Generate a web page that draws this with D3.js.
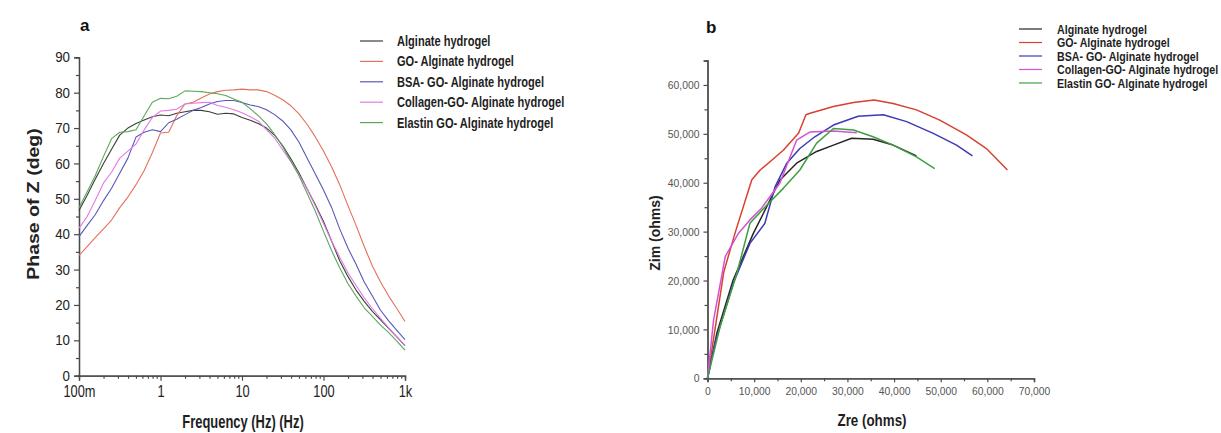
<!DOCTYPE html>
<html>
<head>
<meta charset="utf-8">
<script src="https://cdn.jsdelivr.net/npm/d3@7"></script>
<style>
  html, body { margin: 0; padding: 0; background: #fff; }
  svg { display: block; }
  text { font-family: "Liberation Sans", Arial, sans-serif; }
</style>
</head>
<body>
<svg id="chart" width="1221" height="433"></svg>
<script>
// ---- shared legend / series names ----
const seriesNames = [
  "Alginate hydrogel",
  "GO- Alginate hydrogel",
  "BSA- GO- Alginate hydrogel",
  "Collagen-GO- Alginate hydrogel",
  "Elastin GO- Alginate hydrogel"
];
const colorsA = ["#3d3d3d", "#e5705c", "#5858b8", "#e47ae4", "#5aa85a"];
const colorsB = ["#262626", "#d7412f", "#3b3bb5", "#d452d4", "#3f9f3f"];

// ---- panel a: Bode phase ----
const freqHz = [0.1, 0.126, 0.158, 0.2, 0.251, 0.316, 0.398, 0.501, 0.631, 0.794,
  1, 1.26, 1.58, 2, 2.51, 3.16, 3.98, 5.01, 6.31, 7.94,
  10, 12.6, 15.8, 20, 25.1, 31.6, 39.8, 50.1, 63.1, 79.4,
  100, 126, 158, 200, 251, 316, 398, 501, 631, 794, 1000];

const phaseAlginate = [46.7, 51, 55.5, 60, 64, 68, 70, 71.3, 72.3, 73.2,
  73.7, 73.5, 74.2, 74.6, 75, 75, 74.6, 73.9, 74.2, 74,
  73, 72.2, 71.3, 70, 68, 65, 61.3, 57.3, 52.8, 48.3,
  43.6, 38, 32.5, 28, 24.2, 21, 18.2, 15.8, 13.4, 11, 8.5];
const phaseGO = [34, 36.5, 39, 41.5, 44, 47.5, 50.5, 54, 58, 63,
  68.6, 68.8, 73.5, 76.8, 77.3, 78.5, 79.6, 80.3, 80.7, 80.8,
  81, 80.8, 80.8, 80.3, 79.3, 78, 76.3, 74, 71, 67.5,
  63.5, 59, 54, 48, 42.5, 36.5, 31, 26.5, 22.5, 19, 15.3];
const phaseBSA = [39.3, 42.5, 45.5, 49.5, 53, 57.2, 61.5, 67.5, 68.8, 69.5,
  69, 71.5, 72.5, 73.8, 75, 75.8, 76.8, 77.5, 77.8, 77.8,
  77.2, 76.5, 76.1, 75.2, 73.8, 72, 69.5, 66, 61.5, 57,
  52.5, 47.5, 41.5, 36, 31.5, 26.5, 22.5, 18.5, 15.5, 12.8, 10.2];
const phaseCollagen = [41.7, 45, 49.5, 54.5, 57.5, 61.5, 63.5, 65.5, 69.5, 73,
  74.8, 75, 75.3, 76.8, 77, 77.2, 77.3, 76.4, 75.9, 75.2,
  74.3, 73.2, 72, 69.5, 67.2, 63.8, 60.5, 56.8, 52.8, 48,
  43, 38, 33.5, 29, 25.5, 22, 19, 16.2, 13.5, 11, 8.5];
const phaseElastin = [47.5, 52, 56.5, 62, 67, 68.8, 69, 69.5, 73.5, 77.3,
  78.4, 78.3, 79, 80.5, 80.4, 80.3, 80, 79.7, 79.2, 78.2,
  77.3, 75.5, 73.5, 71.2, 68.2, 64.7, 60.6, 56.5, 51.5, 46.5,
  40.8, 35.3, 30.5, 26, 22.5, 19.2, 16.8, 14.3, 12.2, 9.8, 7.2];

const freqTickValues = [0.1, 1, 10, 100, 1000];
const freqTickLabels = ["100m", "1", "10", "100", "1k"];
const phaseTickValues = [0, 10, 20, 30, 40, 50, 60, 70, 80, 90];

// ---- panel b: Nyquist ----
const nyqAlginate = [[0, 0], [2000, 9200], [5500, 20100], [9800, 29600], [12700, 35100],
  [15500, 40500], [19100, 44000], [23400, 46400], [27000, 47700], [30900, 49100],
  [35500, 48900], [39800, 47700], [44800, 45500]];
const nyqGO = [[0, 0], [3500, 21800], [6000, 30000], [9500, 40600], [11300, 42600],
  [13400, 44300], [16300, 46700], [19500, 50100], [19800, 50800], [21100, 53900],
  [22000, 54200], [27000, 55600], [31300, 56400], [35700, 56900], [39800, 56200],
  [44800, 54900], [49800, 52800], [55500, 49800], [59800, 47000], [64300, 42600]];
const nyqBSA = [[0, 0], [1600, 7200], [5500, 19400], [9100, 27600], [12300, 31700],
  [14500, 39200], [17000, 44000], [19800, 47000], [23000, 49400], [27000, 51800],
  [32300, 53600], [37700, 53900], [42700, 52500], [48400, 50100], [53400, 47700],
  [56800, 45500]];
const nyqCollagen = [[0, 0], [1300, 11900], [3800, 24900], [6600, 29600], [9100, 32400],
  [11600, 34800], [15500, 39900], [19100, 48700], [22000, 50400], [27000, 50600],
  [32000, 50200]];
const nyqElastin = [[0, 0], [2700, 10600], [6300, 21500], [9100, 31700], [12700, 35400],
  [16300, 38900], [19800, 42600], [23400, 48100], [27000, 51100], [31300, 50800],
  [35500, 49400], [39800, 47700], [44800, 45300], [48700, 42900]];

const zTickValues = [0, 10000, 20000, 30000, 40000, 50000, 60000, 70000];
const zimTickValues = [0, 10000, 20000, 30000, 40000, 50000, 60000];

const svg = d3.select("#chart");
const axisColor = "#4a4a4a";

function styleAxis(g, fontSize, textColor, squeeze) {
  g.select(".domain").attr("stroke", axisColor).attr("stroke-width", 1.3);
  g.selectAll(".tick line").attr("stroke", axisColor).attr("stroke-width", 1.2);
  const t = g.selectAll(".tick text").attr("fill", textColor).style("font-size", fontSize + "px");
  if (squeeze) {
    t.each(function () {
      const el = d3.select(this);
      const x0 = +el.attr("x") || 0;
      el.attr("x", x0 / squeeze).attr("transform", `scale(${squeeze},1)`);
    });
  }
}

// condensed bold label: Liberation Sans Bold squeezed horizontally
function narrowText(parent, x, y, anchor, size, sx, str) {
  return parent.append("text")
    .attr("transform", `translate(${x},${y}) scale(${sx},1)`)
    .attr("text-anchor", anchor)
    .style("font-weight", "bold").style("font-size", size + "px")
    .attr("fill", "#1e1e1e")
    .text(str);
}

// ================= panel a =================
(function () {
  const g = svg.append("g");
  const x = d3.scaleLog().domain([0.1, 1000]).range([79, 405]);
  const y = d3.scaleLinear().domain([0, 90]).range([375.7, 57.3]);

  // minor ticks
  const minorX = x.ticks().filter(v => !freqTickValues.some(t => Math.abs(t - v) < 1e-9));
  g.append("g").attr("transform", `translate(0,${y(0)})`)
    .call(d3.axisBottom(x).tickValues(minorX).tickSize(3).tickFormat(""))
    .call(a => styleAxis(a, 13, "#222"));
  g.append("g").attr("transform", `translate(${x(0.1)},0)`)
    .call(d3.axisLeft(y).tickValues(d3.range(5, 90, 10)).tickSize(3).tickFormat(""))
    .call(a => styleAxis(a, 13, "#222"));

  g.append("g").attr("transform", `translate(0,${y(0)})`)
    .call(d3.axisBottom(x).tickValues(freqTickValues).tickSize(5).tickPadding(5)
      .tickFormat((d, i) => freqTickLabels[i]))
    .call(a => styleAxis(a, 16, "#222", 0.8));
  g.append("g").attr("transform", `translate(${x(0.1)},0)`)
    .call(d3.axisLeft(y).tickValues(phaseTickValues).tickSize(5).tickPadding(4))
    .call(a => styleAxis(a, 14.5, "#222", 0.92));

  const series = [phaseAlginate, phaseGO, phaseBSA, phaseCollagen, phaseElastin];
  const line = d3.line().x((d, i) => x(freqHz[i])).y(d => y(d));
  series.forEach((s, k) => {
    g.append("path").datum(s).attr("d", line)
      .attr("fill", "none").attr("stroke", colorsA[k]).attr("stroke-width", 1.1)
      .attr("stroke-linejoin", "round");
  });

  g.append("text").attr("x", 80).attr("y", 31).text("a")
    .style("font-weight", "bold").style("font-size", "17px").attr("fill", "#111");

  narrowText(g, 243, 428, "middle", 17.5, 0.74, "Frequency (Hz) (Hz)");
  g.append("text")
    .attr("transform", "translate(39,204) rotate(-90) scale(1,0.8)").attr("text-anchor", "middle")
    .style("font-weight", "bold").style("font-size", "19.5px").attr("fill", "#222")
    .text("Phase of Z (deg)");

  // legend
  const lg = g.append("g");
  seriesNames.forEach((n, k) => {
    const cy = 41 + k * 20.4;
    lg.append("line").attr("x1", 360).attr("x2", 383).attr("y1", cy).attr("y2", cy)
      .attr("stroke", colorsA[k]).attr("stroke-width", 1.2);
    narrowText(lg, 397, cy + 5, "start", 14, 0.79, n);
  });
})();

// ================= panel b =================
(function () {
  const g = svg.append("g");
  const x = d3.scaleLinear().domain([0, 70000]).range([707.5, 1034]);
  const y = d3.scaleLinear().domain([0, 65000]).range([378.3, 60.5]);
  const fmt = d3.format(",");

  g.append("g").attr("transform", `translate(0,${y(0)})`)
    .call(d3.axisBottom(x).tickValues(d3.range(5000, 70000, 10000)).tickSize(3).tickFormat(""))
    .call(a => styleAxis(a, 11, "#555"));
  g.append("g").attr("transform", `translate(${x(0)},0)`)
    .call(d3.axisLeft(y).tickValues(d3.range(5000, 65000, 10000)).tickSize(3).tickFormat(""))
    .call(a => styleAxis(a, 11, "#555"));

  g.append("g").attr("transform", `translate(0,${y(0)})`)
    .call(d3.axisBottom(x).tickValues(zTickValues).tickSize(4).tickPadding(5).tickFormat(fmt))
    .call(a => styleAxis(a, 11.5, "#555", 0.9));
  g.append("g").attr("transform", `translate(${x(0)},0)`)
    .call(d3.axisLeft(y).tickValues(zimTickValues).tickSize(4).tickPadding(4).tickFormat(fmt))
    .call(a => styleAxis(a, 11.5, "#555", 0.9));

  const series = [nyqAlginate, nyqGO, nyqBSA, nyqCollagen, nyqElastin];
  const line = d3.line().x(d => x(d[0])).y(d => y(d[1]));
  series.forEach((s, k) => {
    g.append("path").datum(s).attr("d", line)
      .attr("fill", "none").attr("stroke", colorsB[k]).attr("stroke-width", 1.5)
      .attr("stroke-linejoin", "round");
  });

  g.append("text").attr("x", 706).attr("y", 33).text("b")
    .style("font-weight", "bold").style("font-size", "17px").attr("fill", "#111");

  narrowText(g, 872, 426, "middle", 16.5, 0.81, "Zre (ohms)");
  g.append("text")
    .attr("transform", "translate(660,233) rotate(-90)").attr("text-anchor", "middle")
    .style("font-weight", "bold").style("font-size", "14px").attr("fill", "#222")
    .text("Zim (ohms)");

  const lg = g.append("g");
  seriesNames.forEach((n, k) => {
    const cy = 29 + k * 13.5;
    lg.append("line").attr("x1", 1019).attr("x2", 1042).attr("y1", cy).attr("y2", cy)
      .attr("stroke", colorsB[k]).attr("stroke-width", 1.2);
    narrowText(lg, 1057, cy + 4.5, "start", 13, 0.82, n);
  });
})();
</script>
</body>
</html>
